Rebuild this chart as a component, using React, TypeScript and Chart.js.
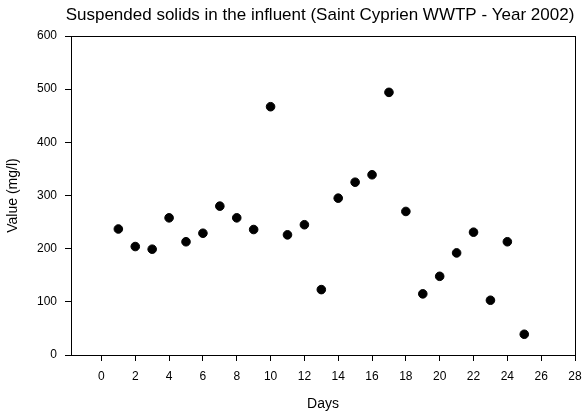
import React, { useEffect, useRef } from "react";
import { Chart, registerables } from "chart.js";

Chart.register(...registerables);

const days = [1, 2, 3, 4, 5, 6, 7, 8, 9, 10, 11, 12, 13, 14, 15, 16, 17, 18, 19, 20, 21, 22, 23, 24, 25];
const values = [237, 204, 199, 258, 213, 229, 280, 258, 236, 467, 226, 245, 123, 295, 325, 339, 494, 270, 115, 148, 192, 231, 103, 213, 39];
const xTicks = [0, 2, 4, 6, 8, 10, 12, 14, 16, 18, 20, 22, 24, 26, 28];
const yTicks = [0, 100, 200, 300, 400, 500, 600];
const title = "Suspended solids in the influent (Saint Cyprien WWTP - Year 2002)";
const xTitle = "Days";
const yTitle = "Value (mg/l)";

const FONT = "Arial, 'Liberation Sans', sans-serif";

export default function App() {
  const ref = useRef<HTMLCanvasElement | null>(null);

  useEffect(() => {
    if (!ref.current) return;
    const framePlugin = {
      id: "frame",
      afterDraw(chart: any) {
        const { ctx, chartArea } = chart;
        ctx.save();
        ctx.strokeStyle = "#000";
        ctx.lineWidth = 1;
        ctx.strokeRect(
          Math.round(chartArea.left) + 0.5,
          Math.round(chartArea.top) + 0.5,
          Math.round(chartArea.right - chartArea.left),
          Math.round(chartArea.bottom - chartArea.top)
        );
        ctx.fillStyle = "#000";
        ctx.font = `17px ${FONT}`;
        ctx.textAlign = "center";
        ctx.textBaseline = "middle";
        ctx.fillText(title, (chartArea.left + chartArea.right) / 2 - 3, 15);
        ctx.restore();
      },
    };

    const chart = new Chart(ref.current, {
      type: "scatter",
      data: {
        datasets: [
          {
            data: days.map((d, i) => ({ x: d, y: values[i] })),
            backgroundColor: "#000",
            borderColor: "#000",
            borderWidth: 1,
            pointRadius: 4.3,
          },
        ],
      },
      options: {
        animation: false,
        responsive: false,
        maintainAspectRatio: false,
        layout: { padding: { left: 0, right: 9, top: 36, bottom: 0 } },
        plugins: { legend: { display: false }, title: { display: false }, tooltip: { enabled: false } },
        scales: {
          x: {
            type: "linear",
            min: -1.8,
            max: 28,
            afterBuildTicks: (axis: any) => {
              axis.ticks = xTicks.map((v) => ({ value: v }));
            },
            afterFit: (axis: any) => {
              axis.height = 62;
              axis.paddingLeft = 0;
              axis.paddingRight = 0;
            },
            grid: { display: true, drawOnChartArea: false, drawTicks: true, tickLength: 6, color: "#000", tickColor: "#000" },
            border: { display: true, color: "#000" },
            ticks: { color: "#000", font: { size: 12, family: FONT }, padding: 8, maxRotation: 0, autoSkip: false },
            title: { display: true, text: xTitle, color: "#000", font: { size: 14, family: FONT }, padding: { top: 4, bottom: 4 } },
          },
          y: {
            type: "linear",
            min: 0,
            max: 600,
            afterBuildTicks: (axis: any) => {
              axis.ticks = yTicks.map((v) => ({ value: v }));
            },
            afterFit: (axis: any) => {
              axis.width = 71;
              axis.paddingTop = 0;
              axis.paddingBottom = 0;
            },
            grid: { display: true, drawOnChartArea: false, drawTicks: true, tickLength: 6, color: "#000", tickColor: "#000" },
            border: { display: true, color: "#000" },
            ticks: { color: "#000", font: { size: 12, family: FONT }, padding: 8 },
            title: { display: true, text: yTitle, color: "#000", font: { size: 14, family: FONT }, padding: { top: 5, bottom: 4 } },
          },
        },
      },
      plugins: [framePlugin],
    });
    return () => chart.destroy();
  }, []);

  return (
    <div style={{ position: "fixed", left: 0, top: 0, width: 584, height: 417, background: "#fff" }}>
      <canvas ref={ref} width={584} height={417} style={{ width: 584, height: 417 }} />
    </div>
  );
}
